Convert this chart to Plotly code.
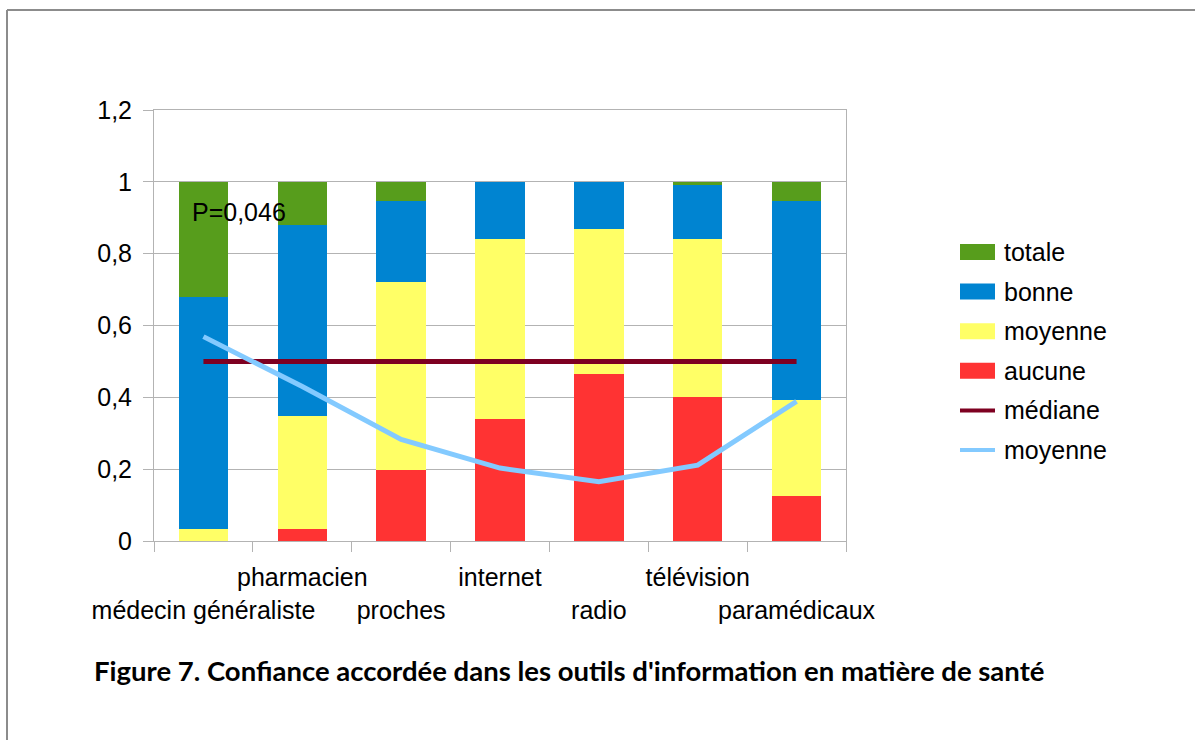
import plotly.graph_objects as go

# Trust levels per information source (shares of respondents, stacked to 1)
categories = ["médecin généraliste", "pharmacien", "proches", "internet",
              "radio", "télévision", "paramédicaux"]
aucune = [0.0, 0.033, 0.197, 0.339, 0.466, 0.400, 0.125]
moyenne = [0.033, 0.315, 0.524, 0.502, 0.403, 0.441, 0.267]
bonne = [0.645, 0.532, 0.226, 0.159, 0.131, 0.151, 0.555]
totale = [0.322, 0.120, 0.053, 0.0, 0.0, 0.008, 0.053]

# Reference lines
mediane = [0.5, 0.5, 0.5, 0.5, 0.5, 0.5, 0.5]
moyenne_score = [0.569, 0.430, 0.283, 0.203, 0.165, 0.211, 0.389]

y_ticks = [0, 0.2, 0.4, 0.6, 0.8, 1.0, 1.2]
p_value_text = "P=0,046"
caption = "Figure 7. Confiance accordée dans les outils d'information en matière de santé"

FONT = "Liberation Sans, Arial, sans-serif"
FS = 25
GRID = "#b3b3b3"

bar_series = [
    ("aucune", aucune, "#ff3333"),
    ("moyenne", moyenne, "#ffff66"),
    ("bonne", bonne, "#0084d1"),
    ("totale", totale, "#579d1c"),
]
line_series = [
    ("médiane", mediane, "#7e0021"),
    ("moyenne", moyenne_score, "#83caff"),
]

fig = go.Figure()
for name, vals, color in bar_series:
    fig.add_trace(go.Bar(x=categories, y=vals, name=name, marker_color=color,
                         marker_line_width=0, width=0.5, showlegend=False))
for name, vals, color in line_series:
    fig.add_trace(go.Scatter(x=categories, y=vals, name=name, mode="lines",
                             line=dict(color=color, width=5), showlegend=False))

# Staggered category labels: every other label drops to a second row
tick_text = [("<br>" + c) if i % 2 == 0 else c for i, c in enumerate(categories)]

# Plot area in pixels (for placing the hand-built legend and frame)
W, H = 1195, 740
L, R, T, B = 154, 846, 110, 541


def px_x(px):
    return (px - L) / (R - L)


def px_y(py):
    return (B - py) / (B - T)


shapes = []
annotations = []

# Outer frame (left and top edges visible)
shapes.append(dict(type="line", xref="paper", yref="paper",
                   x0=px_x(7), x1=px_x(1300), y0=px_y(10), y1=px_y(10),
                   line=dict(color="#8c8c8c", width=2)))
shapes.append(dict(type="line", xref="paper", yref="paper",
                   x0=px_x(7), x1=px_x(7), y0=px_y(10), y1=px_y(800),
                   line=dict(color="#8c8c8c", width=2)))

# Legend, top entry first
legend_items = [("totale", "#579d1c", "box"), ("bonne", "#0084d1", "box"),
                ("moyenne", "#ffff66", "box"), ("aucune", "#ff3333", "box"),
                ("médiane", "#7e0021", "line"), ("moyenne", "#83caff", "line")]
legend_y0, legend_step = 252, 39.6
for k, (label, color, kind) in enumerate(legend_items):
    cy = legend_y0 + k * legend_step
    if kind == "box":
        shapes.append(dict(type="rect", xref="paper", yref="paper",
                           x0=px_x(960), x1=px_x(995), y0=px_y(cy - 8), y1=px_y(cy + 8),
                           fillcolor=color, line=dict(width=0)))
    else:
        shapes.append(dict(type="line", xref="paper", yref="paper",
                           x0=px_x(960), x1=px_x(995), y0=px_y(cy), y1=px_y(cy),
                           line=dict(color=color, width=4)))
    annotations.append(dict(xref="paper", yref="paper", x=px_x(1002), y=px_y(cy),
                            xanchor="left", yanchor="middle", showarrow=False,
                            text=label, font=dict(family=FONT, size=FS, color="black")))

# p-value note over the first bar
annotations.append(dict(xref="paper", yref="y", x=px_x(190), y=0.917,
                        xanchor="left", yanchor="middle", showarrow=False,
                        text=p_value_text, font=dict(family=FONT, size=FS, color="black")))

# Caption
annotations.append(dict(xref="paper", yref="paper", x=px_x(92), y=px_y(670),
                        xanchor="left", yanchor="middle", showarrow=False,
                        text="<b>" + caption + "</b>",
                        font=dict(family="Lato, Open Sans, sans-serif", size=27.5, color="black")))

fig.update_layout(
    width=W, height=H,
    margin=dict(l=L, r=W - R, t=T, b=H - B, pad=0),
    barmode="stack",
    plot_bgcolor="white", paper_bgcolor="white",
    separators=", ",
    font=dict(family=FONT, size=FS, color="black"),
    shapes=shapes,
    annotations=annotations,
    showlegend=False,
)
fig.update_xaxes(
    type="category", tickmode="array", tickvals=categories, ticktext=tick_text,
    tickson="boundaries", ticks="outside", ticklen=10, tickcolor=GRID,
    tickangle=0, ticklabelstandoff=14,
    showline=True, linecolor=GRID, linewidth=1, mirror=True,
    showgrid=False, tickfont=dict(family=FONT, size=FS, color="black"),
)
fig.update_yaxes(
    range=[0, 1.2], tickmode="array", tickvals=y_ticks,
    ticks="outside", ticklen=10, tickcolor=GRID,
    showline=True, linecolor=GRID, linewidth=1, mirror=True,
    showgrid=True, gridcolor=GRID, gridwidth=1, zeroline=False,
    ticklabelstandoff=6,
    tickfont=dict(family=FONT, size=FS, color="black"),
)

fig.write_html("out.html")
